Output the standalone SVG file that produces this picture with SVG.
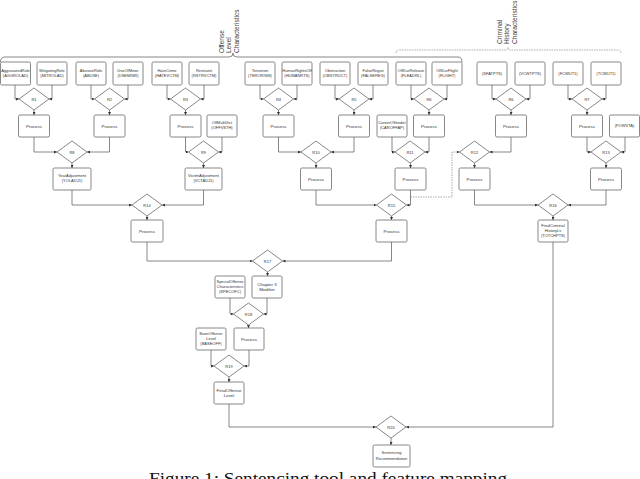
<svg xmlns="http://www.w3.org/2000/svg" width="640" height="479" viewBox="0 0 640 479">
<style>
.b{fill:#fff;stroke:#555;stroke-width:0.7}
.d{fill:#fff;stroke:#555;stroke-width:0.7}
.c{fill:none;stroke:#555;stroke-width:0.7}
.dash{fill:none;stroke:#888;stroke-width:0.7;stroke-dasharray:1.5 1}
text{font-family:"Liberation Sans",Arial,sans-serif;fill:#333;text-anchor:middle}
.t{font-size:4px}
.p{font-size:4.4px}
.h{font-size:6.6px;text-anchor:start;fill:#444}
.cap{font-family:"Liberation Serif","Times New Roman",serif;font-size:16px;fill:#111;text-anchor:start}
</style>
<defs>
<marker id="a" viewBox="0 0 6 6" refX="6" refY="3" markerWidth="3" markerHeight="3" orient="auto" markerUnits="userSpaceOnUse"><path d="M0,0 L6,3 L0,6 z" fill="#333"/></marker>
</defs>
<rect width="640" height="479" fill="#fff"/>

<g id="brace-offense">
<path class="c" d="M0.5,62 Q0.5,57 5,57 H229 Q233,57 233,53 Q233,57 237,57 H458 Q462,57 462,62"/>
<text class="h" transform="translate(224,53) rotate(-90)">Offense</text>
<text class="h" transform="translate(231,53) rotate(-90)">Level</text>
<text class="h" transform="translate(239,53) rotate(-90)">Characteristics</text>
</g>
<g id="brace-criminal">
<path class="dash" d="M396,53 Q396,50 399,50 H505 Q508,50 508,47.5 Q508,50 511,50 H618 Q621,50 621,53"/>
<text class="h" transform="translate(502,44) rotate(-90)">Criminal</text>
<text class="h" transform="translate(509,44) rotate(-90)">History</text>
<text class="h" transform="translate(517,44) rotate(-90)">Characteristics</text>
</g>

<g id="connectors" marker-end="url(#a)">
<path class="c" d="M15,85 V99 H19" marker-end="url(#a)"/>
<path class="c" d="M52,85 V99 H49" marker-end="url(#a)"/>
<path class="c" d="M34,110 V115" marker-end="url(#a)"/>
<path class="c" d="M91,85 V99 H94.5" marker-end="url(#a)"/>
<path class="c" d="M128,85 V99 H124.5" marker-end="url(#a)"/>
<path class="c" d="M109.5,110 V115" marker-end="url(#a)"/>
<path class="c" d="M167,85 V99 H170.5" marker-end="url(#a)"/>
<path class="c" d="M204,85 V99 H200.5" marker-end="url(#a)"/>
<path class="c" d="M185.5,110 V115" marker-end="url(#a)"/>
<path class="c" d="M260,85 V99 H263.5" marker-end="url(#a)"/>
<path class="c" d="M297,85 V99 H293.5" marker-end="url(#a)"/>
<path class="c" d="M278.5,110 V115" marker-end="url(#a)"/>
<path class="c" d="M335,85 V99 H339" marker-end="url(#a)"/>
<path class="c" d="M373,85 V99 H369" marker-end="url(#a)"/>
<path class="c" d="M354,110 V115" marker-end="url(#a)"/>
<path class="c" d="M411,85 V99 H414" marker-end="url(#a)"/>
<path class="c" d="M447,85 V99 H444" marker-end="url(#a)"/>
<path class="c" d="M429,110 V115" marker-end="url(#a)"/>
<path class="c" d="M492,85 V99 H496" marker-end="url(#a)"/>
<path class="c" d="M530,85 V99 H526" marker-end="url(#a)"/>
<path class="c" d="M511,110 V115" marker-end="url(#a)"/>
<path class="c" d="M568,85 V99 H572" marker-end="url(#a)"/>
<path class="c" d="M606,85 V99 H602" marker-end="url(#a)"/>
<path class="c" d="M587,110 V115" marker-end="url(#a)"/>

<path class="c" d="M34,137 V152 H57" marker-end="url(#a)"/>
<path class="c" d="M109.5,137 V152 H87" marker-end="url(#a)"/>
<path class="c" d="M72,163 V168" marker-end="url(#a)"/>
<path class="c" d="M185.5,137 V152 H188.5" marker-end="url(#a)"/>
<path class="c" d="M222,137 V152 H218.5" marker-end="url(#a)"/>
<path class="c" d="M203.5,163 V168" marker-end="url(#a)"/>
<path class="c" d="M278.5,137 V152 H301" marker-end="url(#a)"/>
<path class="c" d="M354,137 V152 H331" marker-end="url(#a)"/>
<path class="c" d="M316,163 V168" marker-end="url(#a)"/>
<path class="c" d="M392,137 V152 H395" marker-end="url(#a)"/>
<path class="c" d="M429,137 V152 H425" marker-end="url(#a)"/>
<path class="c" d="M410.5,163 V168" marker-end="url(#a)"/>
<path class="c" d="M511,137 V152 H489.5" marker-end="url(#a)"/>
<path class="dash" d="M410.5,197 H452 V152 H459.5" marker-end="url(#a)"/>
<path class="c" d="M474.5,163 V168" marker-end="url(#a)"/>
<path class="c" d="M587,137 V152 H591" marker-end="url(#a)"/>
<path class="c" d="M625,137 V152 H621" marker-end="url(#a)"/>
<path class="c" d="M606,163 V168" marker-end="url(#a)"/>

<path class="c" d="M72,190 V205 H132" marker-end="url(#a)"/>
<path class="c" d="M203.5,190 V205 H162" marker-end="url(#a)"/>
<path class="c" d="M147,216 V220" marker-end="url(#a)"/>
<path class="c" d="M316,190 V205 H376.5" marker-end="url(#a)"/>
<path class="c" d="M410.5,190 V205 H406.5" marker-end="url(#a)"/>
<path class="c" d="M391.5,216 V220" marker-end="url(#a)"/>
<path class="c" d="M474.5,190 V205 H538" marker-end="url(#a)"/>
<path class="c" d="M606,190 V205 H568" marker-end="url(#a)"/>
<path class="c" d="M553,216 V220" marker-end="url(#a)"/>

<path class="c" d="M147,242 V261 H252.5" marker-end="url(#a)"/>
<path class="c" d="M391.5,242 V261 H282.5" marker-end="url(#a)"/>
<path class="c" d="M267.5,272 V276" marker-end="url(#a)"/>
<path class="c" d="M230,298 V314 H233.5" marker-end="url(#a)"/>
<path class="c" d="M267,298 V314 H263.5" marker-end="url(#a)"/>
<path class="c" d="M248.5,325 V328" marker-end="url(#a)"/>
<path class="c" d="M211,350 V366 H214" marker-end="url(#a)"/>
<path class="c" d="M249,350 V366 H244" marker-end="url(#a)"/>
<path class="c" d="M229,377 V382" marker-end="url(#a)"/>
<path class="c" d="M229,404 V427 H376" marker-end="url(#a)"/>
<path class="c" d="M553,242 V427 H406" marker-end="url(#a)"/>
<path class="c" d="M391,438 V445" marker-end="url(#a)"/>
</g>

<!-- row 1 boxes -->
<g id="n-aggrole"><rect class="b" x="0.5" y="62" width="30" height="23" rx="1.5"/><text class="t" x="15.5" y="72">AggravatedRole</text><text class="t" x="15.5" y="77">(AGGROLAD)</text></g>
<g id="n-mitrole"><rect class="b" x="37" y="62" width="30" height="23" rx="1.5"/><text class="t" x="52" y="72">MitigatingRole</text><text class="t" x="52" y="77">(MITROLAD)</text></g>
<g id="n-abuse"><rect class="b" x="76" y="62" width="30" height="23" rx="1.5"/><text class="t" x="91" y="72">AbusiveRole</text><text class="t" x="91" y="77">(ABUSE)</text></g>
<g id="n-useminor"><rect class="b" x="113" y="62" width="30" height="23" rx="1.5"/><text class="t" x="128" y="72">UseOfMinor</text><text class="t" x="128" y="77">(USEMINR)</text></g>
<g id="n-hate"><rect class="b" x="152" y="62" width="30" height="23" rx="1.5"/><text class="t" x="167" y="72">HateCrime</text><text class="t" x="167" y="77">(HATEVCTM)</text></g>
<g id="n-restraint"><rect class="b" x="189" y="62" width="30" height="23" rx="1.5"/><text class="t" x="204" y="72">Restraint</text><text class="t" x="204" y="77">(RSTRVCTM)</text></g>
<g id="n-terror"><rect class="b" x="245" y="62" width="30" height="23" rx="1.5"/><text class="t" x="260" y="72">Terrorism</text><text class="t" x="260" y="77">(TERORISM)</text></g>
<g id="n-human"><rect class="b" x="282" y="62" width="30" height="23" rx="1.5"/><text class="t" x="297" y="72">HumanRightsOff</text><text class="t" x="297" y="77">(HUMANRTS)</text></g>
<g id="n-obstr"><rect class="b" x="320" y="62" width="30" height="23" rx="1.5"/><text class="t" x="335" y="72">Obstruction</text><text class="t" x="335" y="77">(OBSTRUCT)</text></g>
<g id="n-false"><rect class="b" x="358" y="62" width="30" height="23" rx="1.5"/><text class="t" x="373" y="72">FalseRegist</text><text class="t" x="373" y="77">(FALSEREG)</text></g>
<g id="n-offrel"><rect class="b" x="396" y="62" width="30" height="23" rx="1.5"/><text class="t" x="411" y="72">OffDurRelease</text><text class="t" x="411" y="77">(FLEADRL)</text></g>
<g id="n-offfl"><rect class="b" x="432" y="62" width="30" height="23" rx="1.5"/><text class="t" x="447" y="72">OffDurFlight</text><text class="t" x="447" y="77">(FLIGHT)</text></g>
<g id="n-sfa"><rect class="b" x="477" y="62" width="30" height="23" rx="1.5"/><text class="t" x="492" y="75">(SFATPTS)</text></g>
<g id="n-vcw"><rect class="b" x="515" y="62" width="30" height="23" rx="1.5"/><text class="t" x="530" y="75">(VCWTPTS)</text></g>
<g id="n-fcw"><rect class="b" x="553" y="62" width="30" height="23" rx="1.5"/><text class="t" x="568" y="75">(FCWUT1)</text></g>
<g id="n-tcw"><rect class="b" x="591" y="62" width="30" height="23" rx="1.5"/><text class="t" x="606" y="75">(TCWUT1)</text></g>

<!-- row 1 diamonds -->
<g id="n-r1"><polygon class="d" points="34,88 49,99 34,110 19,99"/><text class="t" x="34" y="100.5">R1</text></g>
<g id="n-r2"><polygon class="d" points="109.5,88 124.5,99 109.5,110 94.5,99"/><text class="t" x="109.5" y="100.5">R2</text></g>
<g id="n-r3"><polygon class="d" points="185.5,88 200.5,99 185.5,110 170.5,99"/><text class="t" x="185.5" y="100.5">R3</text></g>
<g id="n-r4"><polygon class="d" points="278.5,88 293.5,99 278.5,110 263.5,99"/><text class="t" x="278.5" y="100.5">R4</text></g>
<g id="n-r5"><polygon class="d" points="354,88 369,99 354,110 339,99"/><text class="t" x="354" y="100.5">R5</text></g>
<g id="n-r6"><polygon class="d" points="429,88 444,99 429,110 414,99"/><text class="t" x="429" y="100.5">R6</text></g>
<g id="n-r6b"><polygon class="d" points="511,88 526,99 511,110 496,99"/><text class="t" x="511" y="100.5">R6</text></g>
<g id="n-r7"><polygon class="d" points="587,88 602,99 587,110 572,99"/><text class="t" x="587" y="100.5">R7</text></g>

<!-- row 2 boxes -->
<g id="n-p1"><rect class="b" x="18.5" y="115" width="31" height="22" rx="1.5"/><text class="p" x="34" y="127.5">Process</text></g>
<g id="n-p2"><rect class="b" x="94" y="115" width="31" height="22" rx="1.5"/><text class="p" x="109.5" y="127.5">Process</text></g>
<g id="n-p3"><rect class="b" x="170" y="115" width="31" height="22" rx="1.5"/><text class="p" x="185.5" y="127.5">Process</text></g>
<g id="n-offmulti"><rect class="b" x="207" y="115" width="30" height="22" rx="1.5"/><text class="t" x="222" y="124">OffMultiVict</text><text class="t" x="222" y="129">(OFFVSTH)</text></g>
<g id="n-p4"><rect class="b" x="263" y="115" width="31" height="22" rx="1.5"/><text class="p" x="278.5" y="127.5">Process</text></g>
<g id="n-p5"><rect class="b" x="338.5" y="115" width="31" height="22" rx="1.5"/><text class="p" x="354" y="127.5">Process</text></g>
<g id="n-career"><rect class="b" x="377" y="115" width="30" height="22" rx="1.5"/><text class="t" x="392" y="124">CareerOffender</text><text class="t" x="392" y="129">(CAROFFAP)</text></g>
<g id="n-p6"><rect class="b" x="413.5" y="115" width="31" height="22" rx="1.5"/><text class="p" x="429" y="127.5">Process</text></g>
<g id="n-p7"><rect class="b" x="495.5" y="115" width="31" height="22" rx="1.5"/><text class="p" x="511" y="127.5">Process</text></g>
<g id="n-p8"><rect class="b" x="571.5" y="115" width="31" height="22" rx="1.5"/><text class="p" x="587" y="127.5">Process</text></g>
<g id="n-powvta"><rect class="b" x="609.5" y="115" width="30" height="22" rx="1.5"/><text class="t" x="624.5" y="127">(POWVTA)</text></g>

<!-- row 2 diamonds -->
<g id="n-r8"><polygon class="d" points="72,141 87,152 72,163 57,152"/><text class="t" x="72" y="153.5">R8</text></g>
<g id="n-r9"><polygon class="d" points="203.5,141 218.5,152 203.5,163 188.5,152"/><text class="t" x="203.5" y="153.5">R9</text></g>
<g id="n-r10"><polygon class="d" points="316,141 331,152 316,163 301,152"/><text class="t" x="316" y="153.5">R10</text></g>
<g id="n-r11"><polygon class="d" points="410,141 425,152 410,163 395,152"/><text class="t" x="410" y="153.5">R11</text></g>
<g id="n-r12"><polygon class="d" points="474.5,141 489.5,152 474.5,163 459.5,152"/><text class="t" x="474.5" y="153.5">R12</text></g>
<g id="n-r13"><polygon class="d" points="606,141 621,152 606,163 591,152"/><text class="t" x="606" y="153.5">R13</text></g>

<!-- row 3 boxes -->
<g id="n-yearadj"><rect class="b" x="53" y="168" width="38" height="22" rx="1.5"/><text class="t" x="72" y="177">YearAdjustment</text><text class="t" x="72" y="182">(YOLADJ1)</text></g>
<g id="n-victadj"><rect class="b" x="185" y="168" width="37" height="22" rx="1.5"/><text class="t" x="203.5" y="177">VictimAdjustment</text><text class="t" x="203.5" y="182">(VCTADJ1)</text></g>
<g id="n-p10"><rect class="b" x="300.5" y="168" width="31" height="22" rx="1.5"/><text class="p" x="316" y="180.5">Process</text></g>
<g id="n-p11"><rect class="b" x="395" y="168" width="31" height="22" rx="1.5"/><text class="p" x="410.5" y="180.5">Process</text></g>
<g id="n-p12"><rect class="b" x="459" y="168" width="31" height="22" rx="1.5"/><text class="p" x="474.5" y="180.5">Process</text></g>
<g id="n-p13"><rect class="b" x="590.5" y="168" width="31" height="22" rx="1.5"/><text class="p" x="606" y="180.5">Process</text></g>

<!-- row 3 diamonds -->
<g id="n-r14"><polygon class="d" points="147,194 162,205 147,216 132,205"/><text class="t" x="147" y="206.5">R14</text></g>
<g id="n-r15"><polygon class="d" points="391.5,194 406.5,205 391.5,216 376.5,205"/><text class="t" x="391.5" y="206.5">R15</text></g>
<g id="n-r16"><polygon class="d" points="553,194 568,205 553,216 538,205"/><text class="t" x="553" y="206.5">R16</text></g>

<!-- row 4 boxes -->
<g id="n-p14"><rect class="b" x="131" y="220" width="32" height="22" rx="1.5"/><text class="p" x="147" y="232.5">Process</text></g>
<g id="n-p15"><rect class="b" x="376" y="220" width="31" height="22" rx="1.5"/><text class="p" x="391.5" y="232.5">Process</text></g>
<g id="n-finalcrim"><rect class="b" x="538" y="220" width="30" height="22" rx="1.5"/><text class="t" x="553" y="227">FinalCriminal</text><text class="t" x="553" y="232">HistoryLv</text><text class="t" x="553" y="237">(TOTCHPTS)</text></g>

<g id="n-r17"><polygon class="d" points="267.5,250 282.5,261 267.5,272 252.5,261"/><text class="t" x="267.5" y="262.5">R17</text></g>
<g id="n-specoff"><rect class="b" x="215" y="276" width="30" height="22" rx="1.5"/><text class="t" x="230" y="283">SpecialOffense</text><text class="t" x="230" y="288">Characteristics</text><text class="t" x="230" y="293">(SPECOFC)</text></g>
<g id="n-ch3"><rect class="b" x="252" y="276" width="30" height="22" rx="1.5"/><text class="p" x="267" y="285.5">Chapter 3</text><text class="p" x="267" y="291">Modifier</text></g>
<g id="n-r18"><polygon class="d" points="248.5,303 263.5,314 248.5,325 233.5,314"/><text class="t" x="248.5" y="315.5">R18</text></g>
<g id="n-baseoff"><rect class="b" x="196" y="328" width="30" height="22" rx="1.5"/><text class="t" x="211" y="335">BaseOffense</text><text class="t" x="211" y="340">Level</text><text class="t" x="211" y="345">(BASEOFF)</text></g>
<g id="n-p18"><rect class="b" x="234" y="328" width="30" height="22" rx="1.5"/><text class="p" x="249" y="340.5">Process</text></g>
<g id="n-r19"><polygon class="d" points="229,355 244,366 229,377 214,366"/><text class="t" x="229" y="367.5">R19</text></g>
<g id="n-finaloff"><rect class="b" x="214" y="382" width="30" height="22" rx="1.5"/><text class="p" x="229" y="391.5">FinalOffense</text><text class="p" x="229" y="397">Level</text></g>
<g id="n-r20"><polygon class="d" points="391,416 406,427 391,438 376,427"/><text class="t" x="391" y="428.5">R20</text></g>
<g id="n-sentrec"><rect class="b" x="373" y="445" width="37" height="22" rx="1.5"/><text class="t" x="391.5" y="454">Sentencing</text><text class="t" x="391.5" y="459.5">Recommendation</text></g>

<text class="cap" x="149" y="484" textLength="358" lengthAdjust="spacingAndGlyphs">Figure 1: Sentencing tool and feature mapping</text>
</svg>
